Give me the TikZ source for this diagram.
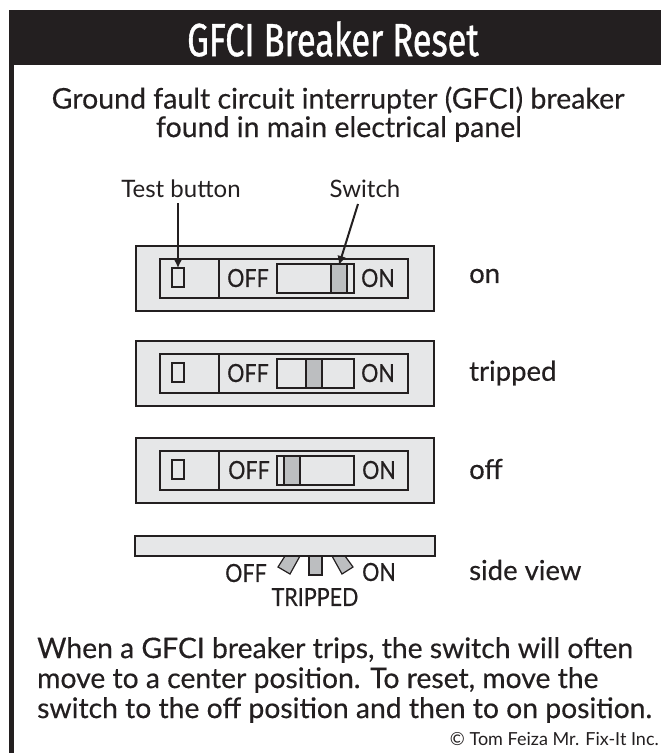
\documentclass[tikz,border=0pt]{standalone}
\usepackage{fontspec}
\setmainfont{Lato}
\newfontfamily\titlefont[FakeStretch=0.74,FakeBold=0.8]{Fira Sans}
\newfontfamily\handfont[FakeBold=0.35]{Lato}
\newfontfamily\capsfont[FakeBold=0.35,FakeStretch=0.86]{Lato}
\newfontfamily\thinfont{Lato}
\definecolor{ink}{HTML}{231F20}
\definecolor{plate}{HTML}{E6E7E8}
\definecolor{slider}{HTML}{BCBEC0}
\usetikzlibrary{arrows.meta}
\tikzset{
  x=1pt,y=-1pt,
  platebox/.style={draw=ink,line width=1.3pt,fill=plate},
  inbox/.style={draw=ink,line width=1.2pt},
  slidebox/.style={draw=ink,line width=1.2pt,fill=slider},
  lab/.style={text=ink,font=\capsfont\fontsize{25}{25}\selectfont,inner sep=0pt},
  side/.style={text=ink,font=\handfont\fontsize{27.5}{27.5}\selectfont,inner sep=0pt,anchor=west},
  head/.style={text=ink,font=\handfont\fontsize{28.5}{28.5}\selectfont,inner sep=0pt},
  para/.style={text=ink,font=\handfont\fontsize{28.3}{30}\selectfont,inner sep=0pt,align=left,anchor=north west},
  small/.style={text=ink,font=\thinfont\fontsize{24}{24}\selectfont,inner sep=0pt},
  lead/.style={draw=ink,line width=2pt,-{Latex[length=9pt,width=9pt]}},
}
\newcommand{\breaker}[3]{%
  \draw[platebox] (136,#1) rectangle (434,#1+65);
  \draw[inbox] (160,#1+13) rectangle (408,#1+52);
  \draw[inbox] (219,#1+13) -- (219,#1+52);
  \draw[inbox] (172,#1+22) rectangle (184,#1+41);
  \draw[inbox] (277,#1+18) rectangle (354,#1+47);
  \draw[slidebox] (#3,#1+18) rectangle (#3+16,#1+47);
}
\begin{document}
\begin{tikzpicture}
\useasboundingbox (0,0) rectangle (661,753);
\fill[white] (0,0) rectangle (661,753);
\fill[ink] (9,10) rectangle (661,65);
\fill[ink] (9,65) rectangle (14,753);
\node[text=white,font=\titlefont\fontsize{46.5}{46.5}\selectfont,inner sep=0pt] (title) at (333,39) {GFCI Breaker Reset};
\node[head] (sub1) at (338,100) {Ground fault circuit interrupter (GFCI) breaker};
\node[head] (sub2) at (339,129) {found in main electrical panel};
\node[small] (tb) at (181,189) {Test button};
\node[small] (sw) at (365,189) {Switch};
\breaker{246}{a}{331}
\breaker{341}{b}{306}
\breaker{438}{c}{284}
\node[lab] at (248,278) {OFF};
\node[lab] at (378,278) {ON};
\node[lab] at (248,373) {OFF};
\node[lab] at (378,373) {ON};
\node[lab] at (249,470) {OFF};
\node[lab] at (379,470) {ON};
\node[side] (l1) at (469,276) {on};
\node[side] (l2) at (469,373) {tripped};
\node[side] (l3) at (469,469) {off};
\node[side] (l4) at (469,570) {side view};
\coordinate (t1) at (178,203);
\coordinate (t2) at (178,268);
\coordinate (s1) at (358,204);
\coordinate (s2) at (339,265);
\draw[lead] (t1) -- (t2);
\draw[lead] (s1) -- (s2);
\draw[slidebox] (285,556) -- (300,556) -- (290,574) -- (278,567) -- cycle;
\draw[slidebox] (309,556) rectangle (322,575);
\draw[slidebox] (332,556) -- (345,556) -- (353,567) -- (342,574) -- cycle;
\draw[platebox] (135,536) rectangle (435,556);
\node[lab] at (246,573) {OFF};
\node[lab] at (379,572) {ON};
\node[lab] at (315,597) {TRIPPED};
\node[para] (p) at (37,637) {When a GFCI breaker trips, the switch will often\\move to a center position.  To reset, move the\\switch to the off position and then to on position.};
\node[small,anchor=east,font=\thinfont\fontsize{18}{18}\selectfont] (c) at (659,739) {© Tom Feiza Mr. Fix-It Inc.};
\end{tikzpicture}
\end{document}
